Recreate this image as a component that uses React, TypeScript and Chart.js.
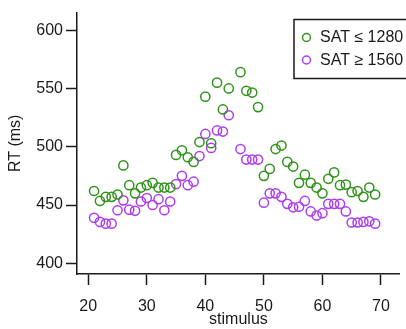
import React, { useEffect, useRef } from "react";
import { Chart, registerables } from "chart.js";

Chart.register(...registerables);

// Stimulus numbers (45 has no measurement)
const stimulus = [
  21, 22, 23, 24, 25, 26, 27, 28, 29, 30, 31, 32, 33, 34, 35, 36, 37, 38, 39, 40,
  41, 42, 43, 44, 46, 47, 48, 49, 50, 51, 52, 53, 54, 55, 56, 57, 58, 59, 60, 61,
  62, 63, 64, 65, 66, 67, 68, 69,
];

// Mean reaction time (ms), SAT ≤ 1280 group
const rtLowSat = [
  462, 453.5, 457, 457, 459, 484, 467, 460, 465, 467, 469, 465, 465, 465, 493, 497,
  491, 487, 504, 543, 503, 555, 532, 550, 564, 548, 546.5, 534, 475, 481, 498, 501,
  487, 483, 469, 476, 469, 465, 460, 472.5, 478, 467, 467.5, 461, 462, 457, 465, 459,
];

// Mean reaction time (ms), SAT ≥ 1560 group
const rtHighSat = [
  439, 435.5, 434, 434, 445.5, 454, 446, 445, 453, 456, 450, 455, 445.5, 453, 468, 475,
  467, 470, 492, 511, 499, 514, 513, 527, 498, 489, 489, 489, 452, 460, 460, 457,
  451, 448, 448.5, 453.5, 444.5, 441, 443, 451, 451, 451, 444.5, 435, 435, 435.5, 436, 434,
];

const seriesLabels = ["SAT ≤ 1280", "SAT ≥ 1560"];
const seriesColors = ["#2f9419", "#ad3cf2"];

const xTickValues = [20, 30, 40, 50, 60, 70];
const yTickValues = [400, 450, 500, 550, 600];

const INK = "#1a1a1a";
const FONT = "'Liberation Sans', Arial, Helvetica, sans-serif";

// Framed legend in the upper right corner, drawn from the chart's datasets
const boxedLegend = {
  id: "boxedLegend",
  afterDraw(chart: any) {
    const { ctx } = chart;
    const left = 294;
    const top = 19.5;
    const right = 420;
    const bottom = 78.5;
    ctx.save();
    ctx.strokeStyle = INK;
    ctx.lineWidth = 1.5;
    ctx.strokeRect(left, top, right - left, bottom - top);
    ctx.font = `16px ${FONT}`;
    ctx.textBaseline = "middle";
    ctx.textAlign = "left";
    chart.data.datasets.forEach((ds: any, i: number) => {
      const cy = 37.5 + i * 22.5;
      ctx.beginPath();
      ctx.arc(306.5, cy, 4, 0, Math.PI * 2);
      ctx.strokeStyle = ds.borderColor;
      ctx.lineWidth = 1.5;
      ctx.stroke();
      ctx.fillStyle = INK;
      ctx.fillText(ds.label, 320, cy + 0.5);
    });
    ctx.restore();
  },
};

export default function App() {
  const canvasRef = useRef<HTMLCanvasElement | null>(null);

  useEffect(() => {
    if (!canvasRef.current) return;
    const makeSet = (values: number[], i: number) => ({
      label: seriesLabels[i],
      data: stimulus.map((s, k) => ({ x: s, y: values[k] })),
      borderColor: seriesColors[i],
      backgroundColor: "rgba(0,0,0,0)",
      pointRadius: 4.6,
      pointBorderWidth: 1.5,
      pointStyle: "circle",
      showLine: false,
    });

    const chart = new Chart(canvasRef.current, {
      type: "scatter",
      data: { datasets: [makeSet(rtLowSat, 0), makeSet(rtHighSat, 1)] },
      plugins: [boxedLegend],
      options: {
        animation: false,
        responsive: false,
        devicePixelRatio: 1,
        layout: { padding: { top: 7, right: 4.3, left: 0, bottom: 0 } },
        plugins: {
          legend: { display: false },
          tooltip: { enabled: false },
        },
        scales: {
          x: {
            type: "linear",
            min: 18.08,
            max: 73.23,
            afterBuildTicks: (scale: any) => {
              scale.ticks = xTickValues.map((v) => ({ value: v }));
            },
            afterFit: (scale: any) => {
              scale.height = 55;
            },
            grid: {
              drawOnChartArea: false,
              drawTicks: true,
              tickLength: 11,
              tickWidth: 1.5,
              tickColor: INK,
            },
            border: { display: true, color: INK, width: 1.5 },
            ticks: {
              color: INK,
              padding: 12,
              maxRotation: 0,
              autoSkip: false,
              font: { family: FONT, size: 16 },
            },
            title: {
              display: true,
              text: "stimulus",
              color: INK,
              font: { family: FONT, size: 16 },
              padding: { top: 0, bottom: 0 },
            },
          },
          y: {
            type: "linear",
            min: 390.8,
            max: 615.1,
            afterBuildTicks: (scale: any) => {
              scale.ticks = yTickValues.map((v) => ({ value: v }));
            },
            afterFit: (scale: any) => {
              scale.width = 77;
            },
            grid: {
              drawOnChartArea: false,
              drawTicks: true,
              tickLength: 11,
              tickWidth: 1.5,
              tickColor: INK,
            },
            border: { display: true, color: INK, width: 1.5 },
            ticks: {
              color: INK,
              padding: 3,
              autoSkip: false,
              font: { family: FONT, size: 16 },
            },
            title: {
              display: true,
              text: "RT (ms)",
              color: INK,
              font: { family: FONT, size: 16 },
              padding: { top: 6, bottom: 0 },
            },
          },
        },
      },
    } as any);

    return () => chart.destroy();
  }, []);

  return (
    <div style={{ position: "fixed", left: 0, top: 0, width: 406, height: 329, background: "#fff" }}>
      <canvas ref={canvasRef} width={406} height={329} style={{ display: "block" }} />
    </div>
  );
}
